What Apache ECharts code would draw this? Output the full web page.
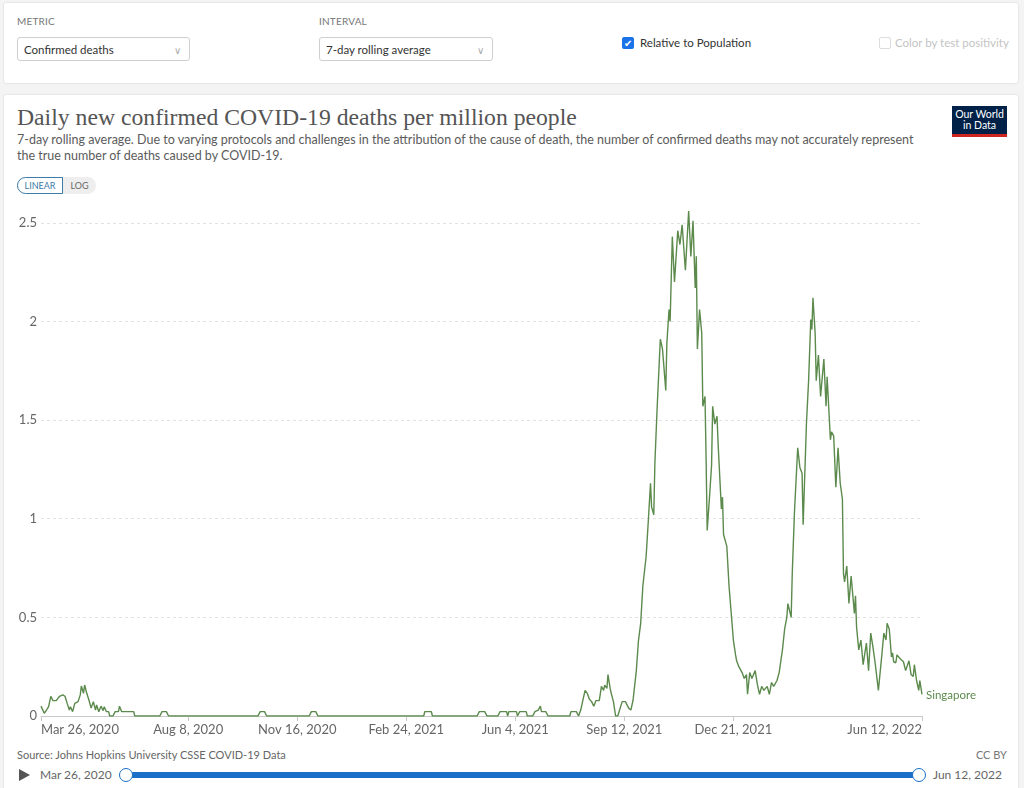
<!DOCTYPE html>
<html>
<head>
<meta charset="utf-8">
<script src="https://cdn.jsdelivr.net/npm/echarts@6/dist/echarts.min.js"></script>
<style>
  html, body { margin:0; padding:0; width:1024px; height:788px; overflow:hidden; background:#f4f4f4; font-family:Lato, "Noto Sans", sans-serif; }
  .panel { position:absolute; background:#fff; box-shadow:0 0 2px rgba(0,0,0,0.18); border-radius:2px; }
  .lbl { position:absolute; font-size:10px; color:#777; letter-spacing:0.2px; }
  .sel { position:absolute; height:24px; border:1px solid #cfcfcf; border-radius:3px; background:#fff; font-size:11.5px; color:#333; line-height:24px; padding-left:6px; box-sizing:border-box; }
  .sel .chev { position:absolute; right:8px; top:0; color:#aaa; font-size:10px; }
  .abs { position:absolute; white-space:nowrap; }
  #chart { position:absolute; left:0; top:0; width:1024px; height:788px; z-index:2; }
</style>
</head>
<body>
<div class="panel" style="left:4px;top:3px;width:1014px;height:80px;"></div>
<div class="lbl" style="left:17px;top:15px;">METRIC</div>
<div class="sel" style="left:17px;top:37px;width:173px;">Confirmed deaths<span class="chev">&#8744;</span></div>
<div class="lbl" style="left:319px;top:15px;">INTERVAL</div>
<div class="sel" style="left:319px;top:37px;width:174px;">7-day rolling average<span class="chev">&#8744;</span></div>
<div class="abs" style="left:622px;top:37px;width:12px;height:12px;background:#1a73e8;border-radius:2px;color:#fff;font-size:10px;line-height:12px;text-align:center;">&#10004;</div>
<div class="abs" style="left:640px;top:36px;font-size:11.5px;color:#333;">Relative to Population</div>
<div class="abs" style="left:879px;top:37px;width:10px;height:10px;border:1px solid #ddd;border-radius:2px;"></div>
<div class="abs" style="left:895px;top:36px;font-size:11.5px;color:#c4c4c4;">Color by test positivity</div>

<div class="panel" style="left:4px;top:95px;width:1014px;height:700px;"></div>
<div class="abs" style="left:17px;top:104px;font-family:'Liberation Serif', 'DejaVu Serif', serif;font-size:23.7px;color:#555;">Daily new confirmed COVID-19 deaths per million people</div>
<div class="abs" style="left:17px;top:132px;font-size:12.5px;color:#5b5b5b;line-height:16px;white-space:normal;width:905px;">7-day rolling average. Due to varying protocols and challenges in the attribution of the cause of death, the number of confirmed deaths may not accurately represent the true number of deaths caused by COVID-19.</div>
<div class="abs" style="left:17px;top:177px;height:17px;width:79px;border-radius:9px;background:#eee;"></div>
<div class="abs" style="left:17px;top:177px;height:17px;width:46px;border:1px solid #3d7ba8;border-radius:9px 0 0 9px;background:#fff;box-sizing:border-box;font-size:9px;color:#3d7ba8;line-height:15px;text-align:center;">LINEAR</div>
<div class="abs" style="left:63px;top:177px;height:17px;width:33px;font-size:9px;color:#666;line-height:17px;text-align:center;">LOG</div>
<div class="abs" style="left:952px;top:106px;width:55px;height:31px;background:#002147;color:#fff;font-size:10.5px;line-height:11px;text-align:center;box-sizing:border-box;padding-top:3px;border-bottom:3px solid #ce261e;">Our World<br>in Data</div>

<div class="abs" style="left:17px;top:748px;font-size:11px;color:#666;">Source: Johns Hopkins University CSSE COVID-19 Data</div>
<div class="abs" style="right:17px;top:748px;font-size:11px;color:#777;">CC BY</div>
<div class="abs" style="left:19px;top:769px;width:0;height:0;border-left:11px solid #555;border-top:6.5px solid transparent;border-bottom:6.5px solid transparent;"></div>
<div class="abs" style="left:40px;top:767px;font-size:12px;color:#666;">Mar 26, 2020</div>
<div class="abs" style="left:126px;top:772px;width:794px;height:6px;background:#1a6fc9;"></div>
<div class="abs" style="left:119px;top:768px;width:12px;height:12px;border:1.5px solid #1a6fc9;border-radius:50%;background:#fff;"></div>
<div class="abs" style="left:912px;top:768px;width:12px;height:12px;border:1.5px solid #1a6fc9;border-radius:50%;background:#fff;"></div>
<div class="abs" style="left:933px;top:767px;font-size:12px;color:#666;">Jun 12, 2022</div>

<div id="chart"></div>
<script>
// Singapore: daily new confirmed COVID-19 deaths per million (7-day avg)
const startDate = '2020-03-26';
const endDate = '2022-06-12';
const seriesName = 'Singapore';
// days since startDate
const dayOffsets = [
  0,3,5,7,9,11,14,17,20,22,24,26,27,29,31,34,36,37,39,40,42,44,46,48,50,51,53,55,57,58,60,62,63,66,68,71,72,74,85,86,
  109,111,115,117,199,201,205,207,246,248,252,254,351,352,358,359,400,402,407,409,419,421,427,428,429,436,437,439,445,446,
  451,453,456,458,459,463,465,485,486,491,493,495,497,499,501,503,505,507,509,512,514,516,517,519,520,522,523,525,527,529,
  533,536,539,541,543,546,548,550,552,555,557,559,560,562,563,565,568,570,573,574,576,577,579,581,584,586,588,591,592,594,
  596,598,600,601,602,604,606,607,609,610,611,613,615,616,618,620,621,624,625,626,629,631,635,637,638,640,643,645,647,648,
  650,652,655,657,659,661,663,666,668,670,672,675,677,680,682,684,685,688,689,691,694,696,698,699,702,704,706,707,708,710,
  711,713,715,718,720,721,724,725,727,729,731,733,735,736,737,739,741,743,746,747,748,750,752,754,755,757,759,761,763,765,
  766,768,771,773,775,776,778,780,781,782,784,785,788,789,791,793,794,796,798,800,801,803,805,806,808
];
const deathsPerMillion = [
  0.05,0.014,0.03,0.047,0.10,0.078,0.078,0.10,0.107,0.10,0.064,0.03,0.047,0.022,0.064,0.073,0.107,0.152,0.115,0.157,0.115,0.08,0.04,0.073,0.03,0.056,0.022,0.05,0.027,0.047,0.022,0.022,0,0,0.022,0.022,0.05,0.022,0.022,0,
  0,0.022,0.022,0,0,0.022,0.022,0,0,0.022,0.022,0,0,0.022,0.022,0,0,0.022,0.022,0,0,0.022,0.022,0,0.022,0.022,0,0.022,0.022,0,
  0,0.022,0.03,0.05,0.022,0.022,0,0,0.022,0.022,0,0.03,0.08,0.13,0.115,0.085,0.073,0.05,0.078,0.078,0.15,0.13,0.157,0.14,0.21,0.14,0.115,0.073,0,0,
  0.073,0.073,0.04,0.03,0.08,0.23,0.385,0.47,0.66,0.81,0.99,1.18,1.06,1.02,1.28,1.55,1.91,1.86,1.65,1.89,2.06,2.0,2.43,2.20,2.46,2.39,2.49,2.26,2.36,2.56,
  2.33,2.51,2.17,2.33,1.86,2.06,1.94,1.57,1.62,1.30,0.94,1.10,1.27,1.57,1.48,1.52,1.38,1.05,1.11,0.92,0.86,0.66,0.385,0.31,0.28,0.25,0.22,0.19,0.21,0.11,
  0.22,0.19,0.23,0.16,0.11,0.15,0.13,0.15,0.11,0.17,0.15,0.18,0.22,0.335,0.44,0.50,0.57,0.50,0.72,1.03,1.36,1.26,1.23,0.97,1.48,1.70,2.01,1.96,2.12,1.94,
  1.70,1.83,1.62,1.81,1.57,1.72,1.40,1.44,1.42,1.16,1.36,1.18,1.10,0.72,0.68,0.76,0.57,0.71,0.52,0.61,0.45,0.335,0.385,0.26,0.26,0.37,0.23,0.42,0.35,0.27,
  0.28,0.13,0.30,0.42,0.385,0.47,0.44,0.30,0.32,0.275,0.27,0.31,0.29,0.28,0.275,0.23,0.22,0.28,0.21,0.20,0.26,0.18,0.13,0.18,0.11
];
// x-axis tick dates
const xTickDates = ['2020-03-26','2020-08-08','2020-11-16','2021-02-24','2021-06-04','2021-09-12','2021-12-21','2022-06-12'];
const yTicks = [0, 0.5, 1, 1.5, 2, 2.5];

const DAY = 86400000;
const t0 = Date.parse(startDate + 'T00:00:00Z');
const t1 = Date.parse(endDate + 'T00:00:00Z');
const data = dayOffsets.map((d, i) => [t0 + d * DAY, deathsPerMillion[i]]);
const tickTimes = xTickDates.map(s => Date.parse(s + 'T00:00:00Z'));
const MONTHS = ['Jan','Feb','Mar','Apr','May','Jun','Jul','Aug','Sep','Oct','Nov','Dec'];
function fmtDate(v) {
  const d = new Date(v);
  return MONTHS[d.getUTCMonth()] + ' ' + d.getUTCDate() + ', ' + d.getUTCFullYear();
}
const green = '#5b8a4c';
const chart = echarts.init(document.getElementById('chart'), null, { renderer: 'canvas' });
chart.setOption({
  animation: false,
  backgroundColor: 'transparent',
  textStyle: { fontFamily: 'Lato, "Noto Sans", sans-serif' },
  grid: { left: 41, right: 102, top: 211, bottom: 72, containLabel: false },
  xAxis: {
    type: 'value',
    min: t0, max: t1,
    axisLine: { show: true, lineStyle: { color: '#c8c8c8', width: 1 } },
    axisTick: { show: true, customValues: tickTimes, length: 5, lineStyle: { color: '#c8c8c8' } },
    axisLabel: {
      customValues: tickTimes,
      formatter: v => fmtDate(v),
      color: '#666', fontSize: 13, margin: 7,
      alignMinLabel: 'left', alignMaxLabel: 'right'
    },
    splitLine: { show: false }
  },
  yAxis: {
    type: 'value',
    min: 0, max: 2.56,
    interval: 0.5,
    axisLine: { show: false },
    axisTick: { show: false },
    axisLabel: { customValues: yTicks, color: '#666', fontSize: 13, margin: 4, formatter: v => String(v) },
    splitLine: { show: true, showMinLine: false, showMaxLine: false, lineStyle: { color: '#e2e2e2', type: [3, 3], width: 1 } }
  },
  series: [{
    name: seriesName,
    type: 'line',
    data: data,
    showSymbol: false,
    symbol: 'none',
    lineStyle: { color: green, width: 1.4 },
    itemStyle: { color: green },
    endLabel: { show: true, formatter: seriesName, color: green, fontSize: 11.5, distance: 4, offset: [0, 1] }
  }]
});
</script>
</body>
</html>
